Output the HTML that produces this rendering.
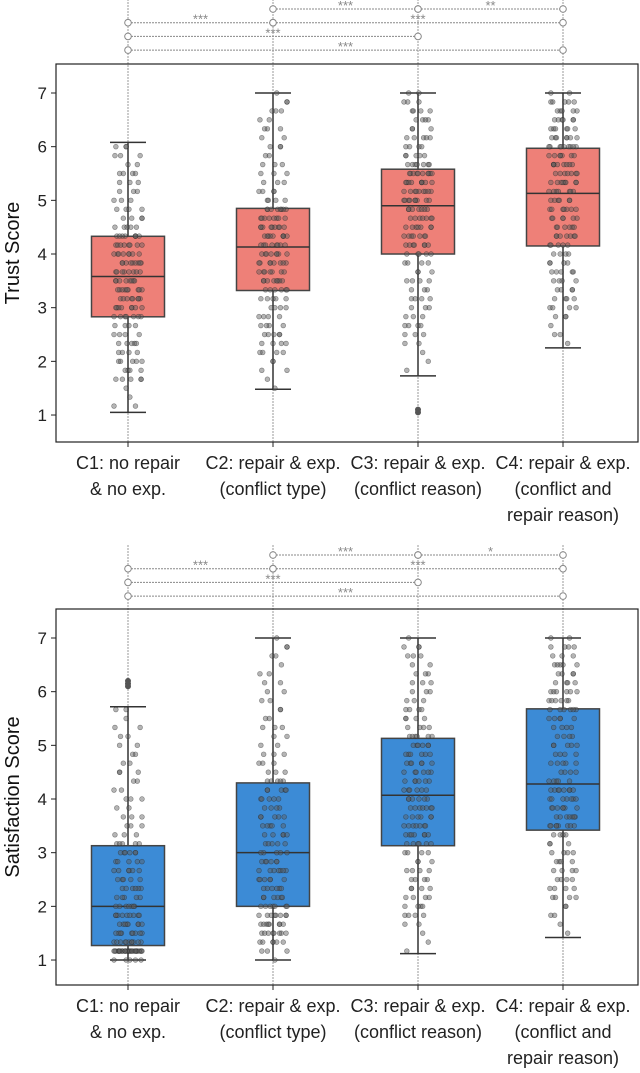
<!DOCTYPE html>
<html><head><meta charset="utf-8">
<style>
html,body{margin:0;padding:0;background:#fff;}
svg{display:block;font-family:"Liberation Sans",sans-serif;}
</style></head>
<body>
<svg id="chart" width="640" height="1073" viewBox="0 0 640 1073" xmlns="http://www.w3.org/2000/svg"></svg>
<script>
const categories = ["C1","C2","C3","C4"];
const catLine1 = ["C1: no repair","C2: repair & exp.","C3: repair & exp.","C4: repair & exp."];
const catLine2 = ["& no exp.","(conflict type)","(conflict reason)","(conflict and"];
const catLine3 = ["","","","repair reason)"];
const yTicks = [1,2,3,4,5,6,7];
// trust: [whiskerLow, q1, median, q3, whiskerHigh]
const trustStats = [[1.05,2.83,3.58,4.33,6.08],[1.48,3.32,4.13,4.85,7.0],[1.73,4.0,4.9,5.58,7.0],[2.25,4.15,5.13,5.97,7.0]];
const trustOutliers = [[],[],[1.05,1.1],[]];
const satStats = [[1.0,1.27,2.0,3.13,5.72],[1.0,2.0,3.0,4.3,7.0],[1.12,3.13,4.07,5.13,7.0],[1.42,3.42,4.28,5.68,7.0]];
const satOutliers = [[6.1,6.15,6.2],[],[],[]];
// significance: [from, to, row, label]
const trustSig = [[1,2,0,"***"],[2,3,0,"**"],[0,1,1,"***"],[1,3,1,"***"],[0,2,2,"***"],[0,3,3,"***"]];
const satSig = [[1,2,0,"***"],[2,3,0,"*"],[0,1,1,"***"],[1,3,1,"***"],[0,2,2,"***"],[0,3,3,"***"]];

const svg = document.getElementById('chart');
const NS = "http://www.w3.org/2000/svg";
function el(tag, attrs, parent){const e=document.createElementNS(NS,tag);for(const k in attrs)e.setAttribute(k,attrs[k]);(parent||svg).appendChild(e);return e;}
const xPos = i => 128 + i*145;

function panel(cfg){
  const g = el('g',{});
  
  
  const y = v => cfg.y7 + (7 - v) * 53.67;
  const rowY = r => cfg.sigTop + r*13.7;
  cfg.sig.forEach(s=>{
    const yy=rowY(s[2]);
    const ln=el('line',{x1:xPos(s[0]),x2:xPos(s[1]),y1:yy,y2:yy,stroke:'#888','stroke-width':1,'stroke-dasharray':'2,1'},g);
    
    
    const t=el('text',{x:(xPos(s[0])+xPos(s[1]))/2,y:yy+1,'text-anchor':'middle','font-size':13,fill:'#888'},g);
    t.textContent=s[3];
    
    
  });
  categories.forEach((c,i)=>{
    const l=el('line',{x1:xPos(i),x2:xPos(i),y1:cfg.sigTop-10,y2:cfg.boxBottom,stroke:'#999','stroke-width':1,'stroke-dasharray':'2,1'},g);
    
    
  });
  cfg.sig.forEach(s=>{
    [s[0],s[1]].forEach(k=>{
      const c=el('circle',{cx:xPos(k),cy:rowY(s[2]),r:3.3,fill:'#fff',stroke:'#888','stroke-width':1},g);
      
      
    });
  });
  const fr=el('rect',{x:56,y:cfg.boxTop,width:582,height:cfg.boxBottom-cfg.boxTop,fill:'none',stroke:'#222','stroke-width':1.2},g);
  
  
  yTicks.forEach(t=>{
    el('line',{x1:51,x2:56,y1:y(t),y2:y(t),stroke:'#222'},g);
    const tx=el('text',{x:47,y:y(t)+6,'text-anchor':'end','font-size':17,fill:'#222'},g);
    tx.textContent=t;
    
    
  });
  const yt=el('text',{x:0,y:0,transform:`translate(19,${(cfg.boxTop+cfg.boxBottom)/2}) rotate(-90)`,'text-anchor':'middle','font-size':20,fill:'#111'},g);
  yt.textContent=cfg.title;
  
  
  cfg.stats.forEach((s,i)=>{
    const cx=xPos(i);
    const w=el('line',{x1:cx,x2:cx,y1:y(s[0]),y2:y(s[4]),stroke:'#333','stroke-width':1.5},g);
    
    
    [s[0],s[4]].forEach(v=>el('line',{x1:cx-18,x2:cx+18,y1:y(v),y2:y(v),stroke:'#333','stroke-width':1.5},g));
    const b=el('rect',{x:cx-36.5,y:y(s[3]),width:73,height:y(s[1])-y(s[3]),fill:cfg.color,stroke:'#444','stroke-width':1.5},g);
    
    
    el('line',{x1:cx-36.5,x2:cx+36.5,y1:y(s[2]),y2:y(s[2]),stroke:'#333','stroke-width':1.5},g);
    const n=150;
    for(let k=0;k<n;k++){
      const p=(k+0.5)/n;
      let v;
      if(p<0.03) v=s[0]+(s[1]-s[0])*p/0.03*0.3;
      else if(p<0.25) v=s[0]+(s[1]-s[0])*(0.3+0.7*(p-0.03)/0.22);
      else if(p<0.5) v=s[1]+(s[2]-s[1])*(p-0.25)/0.25;
      else if(p<0.75) v=s[2]+(s[3]-s[2])*(p-0.5)/0.25;
      else v=s[3]+(s[4]-s[3])*Math.pow((p-0.75)/0.25,1.3);
      v=Math.round(v*6)/6;
      const jx=((k*53+i*17+(k*k)%13)%31)/30*28-14;
      const pt=el('circle',{cx:cx+jx,cy:y(v),r:2.4,fill:'rgba(90,90,90,0.45)',stroke:'rgba(40,40,40,0.5)','stroke-width':0.6},g);
      
      
    }
    cfg.outl[i].forEach(v=>{
      const o=el('circle',{cx:cx,cy:y(v),r:3,fill:'#555'},g);
      
      
    });
  });
  categories.forEach((c,i)=>{
    const cx=xPos(i);
    el('line',{x1:cx,x2:cx,y1:cfg.boxBottom,y2:cfg.boxBottom+5,stroke:'#222'},g);
    [catLine1,catLine2,catLine3].forEach((arr,li)=>{
      if(!arr[i])return;
      const t=el('text',{x:cx,y:cfg.boxBottom+27+li*26,'text-anchor':'middle','font-size':18,fill:'#222'},g);
      t.textContent=arr[i];
      
      
    });
  });
}
panel({name:'trust-panel',title:'Trust Score',y7:93,boxTop:64,boxBottom:442,sigTop:9,stats:trustStats,outl:trustOutliers,sig:trustSig,color:'#ee8078'});
panel({name:'satisfaction-panel',title:'Satisfaction Score',y7:638,boxTop:609,boxBottom:985,sigTop:555,stats:satStats,outl:satOutliers,sig:satSig,color:'#3c8bd6'});
</script>
</body></html>
